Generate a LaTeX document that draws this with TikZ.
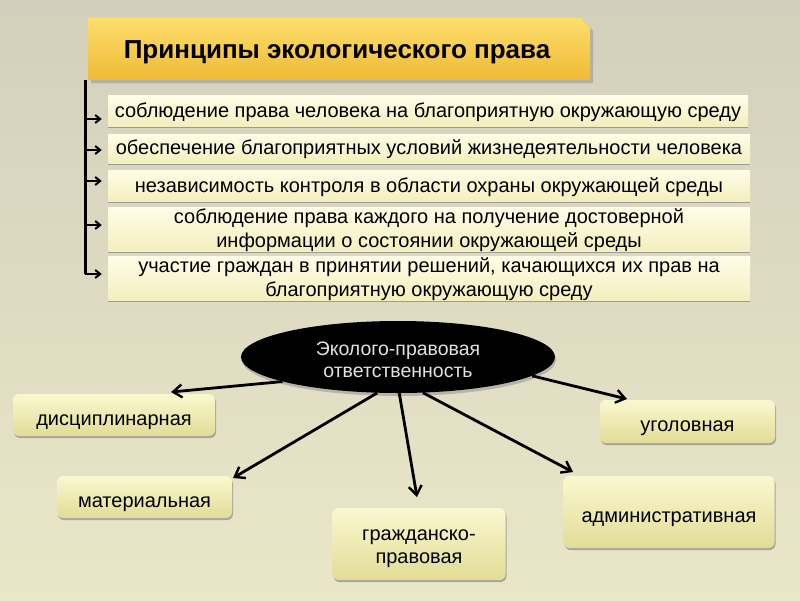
\documentclass[tikz,border=0pt]{standalone}
\usepackage{fontspec}
\setmainfont{Liberation Sans}
\usetikzlibrary{arrows.meta,shadows,shapes.geometric}
\definecolor{bgtop}{RGB}{212,207,188}
\definecolor{bgbot}{RGB}{234,231,200}
\definecolor{goldtop}{RGB}{252,222,110}
\definecolor{goldbot}{RGB}{240,186,52}
\definecolor{rowtop}{RGB}{255,253,232}
\definecolor{rowbot}{RGB}{244,239,190}
\definecolor{boxtop}{RGB}{250,248,208}
\definecolor{boxbot}{RGB}{226,220,150}
\definecolor{elltext}{RGB}{225,225,225}
\tikzset{
  rowbox/.style={draw=none, top color=rowtop, bottom color=rowbot,
    drop shadow={shadow xshift=0pt, shadow yshift=-2pt, fill=black!45, opacity=0.8},
    minimum width=642pt, inner sep=0pt},
  rowtext/.style={align=center, inner sep=0pt, font=\fontsize{20}{24}\selectfont},
  kindbox/.style={draw=none, rounded corners=6pt, top color=boxtop, bottom color=boxbot,
    drop shadow={shadow xshift=1pt, shadow yshift=-2pt, fill=black!45, opacity=0.7},
    inner sep=0pt},
  kindtext/.style={align=center, inner sep=0pt, font=\fontsize{20}{23}\selectfont},
  bigarrow/.style={line width=2.8pt, -{Straight Barb[length=9pt,width=13pt,line width=2.4pt]}},
  smallarrow/.style={line width=1.8pt, -{Straight Barb[length=5pt,width=8pt,line width=2pt]}},
}
\begin{document}
\begin{tikzpicture}[x=1pt,y=-1pt]
\useasboundingbox (0,0) rectangle (800,600);
\shade[top color=bgtop, bottom color=bgbot] (0,0) rectangle (800,600);

% title
\fill[black!40, opacity=0.6] (91,21) -- (583,21) -- (593,31) -- (593,83) -- (91,83) -- cycle;
\shade[top color=goldtop, bottom color=goldbot] (88,18) -- (580,18) -- (590,28) -- (590,80) -- (88,80) -- cycle;
\node[font=\fontsize{26}{30}\bfseries] (title) at (337,52) {Принципы экологического права};

% trunk
\coordinate (ttop) at (85,80);
\coordinate (tbot) at (85,274);
\draw[line width=3pt] (ttop) -- (tbot);

% rows
\node[rowbox, minimum width=640pt, minimum height=31pt] (r1) at (428,110.5) {};
\node[rowbox, minimum height=29pt] (r2) at (429,148.5) {};
\node[rowbox, minimum height=31pt] (r3) at (429,185.5) {};
\node[rowbox, minimum height=44pt] (r4) at (429,229) {};
\node[rowbox, minimum height=44pt] (r5) at (429,278) {};
\node[rowtext] (r1t) at ([yshift=-2pt]r1.center) {соблюдение права человека на благоприятную окружающую среду};
\node[rowtext] (r2t) at ([yshift=-1pt]r2.center) {обеспечение благоприятных условий жизнедеятельности человека};
\node[rowtext] (r3t) at ([yshift=-2pt]r3.center) {независимость контроля в области охраны окружающей среды};
\node[rowtext] (r4t) at ([yshift=-1pt]r4.center) {соблюдение права каждого на получение достоверной\\информации о состоянии окружающей среды};
\node[rowtext] (r5t) at ([yshift=-1pt]r5.center) {участие граждан в принятии решений, качающихся их прав на\\благоприятную окружающую среду};

\foreach \i/\y in {1/119,2/150,3/181,4/225,5/274}{
  \coordinate (t\i) at (85,\y);
  \draw[smallarrow, shorten >=6pt] (t\i) -- (r\i.west |- t\i);
}

% ellipse
\node[ellipse, fill=black, minimum width=314pt, minimum height=72pt, inner sep=0pt,
  drop shadow={shadow xshift=1pt, shadow yshift=-3pt, fill=black!40, opacity=0.6}] (resp) at (398,357) {};
\node[align=center, inner sep=0pt, text=elltext, font=\fontsize{19.5}{22}\selectfont] (respt)
  at ([yshift=-2.5pt]resp.center) {Эколого-правовая\\ответственность};

% kinds
\node[kindbox, minimum width=202pt, minimum height=42pt] (k1) at (114,415) {};
\node[kindbox, minimum width=175pt, minimum height=42pt] (k2) at (144.5,497) {};
\node[kindbox, minimum width=173pt, minimum height=72pt] (k3) at (419,544) {};
\node[kindbox, minimum width=211pt, minimum height=72pt] (k4) at (669,512) {};
\node[kindbox, minimum width=175pt, minimum height=43pt] (k5) at (687.5,421.5) {};
\node[kindtext] (k1t) at ([yshift=-7pt]k1.center) {дисциплинарная};
\node[kindtext] (k2t) at ([yshift=-7pt]k2.center) {материальная};
\node[kindtext] (k3t) at ([yshift=-5pt]k3.center) {гражданско-\\правовая};
\node[kindtext] (k4t) at ([yshift=-7pt]k4.center) {административная};
\node[kindtext] (k5t) at ([yshift=-7pt]k5.center) {уголовная};

\coordinate (a1) at (171,392);
\coordinate (a2) at (233,478);
\coordinate (a3) at (417,497);
\coordinate (a4) at (573,472);
\coordinate (a5) at (627,399);
\draw[bigarrow] (resp.192) -- (a1);
\draw[bigarrow] (resp.240) -- (a2);
\draw[bigarrow] (resp.272) -- (a3);
\draw[bigarrow] (resp.305) -- (a4);
\draw[bigarrow] (resp.352) -- (a5);
\end{tikzpicture}
\end{document}
